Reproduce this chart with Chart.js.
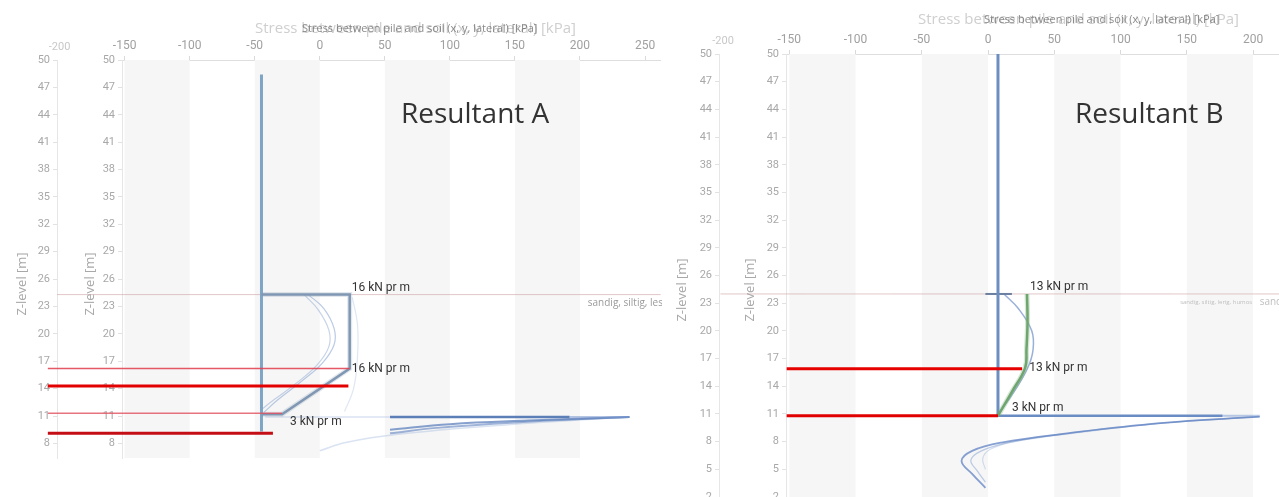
<!DOCTYPE html>
<html>
<head>
<meta charset="utf-8">
<title>Stress between pile and soil</title>
<script src="https://cdn.jsdelivr.net/npm/chart.js@4.4.1/dist/chart.umd.min.js"></script>
<style>
  html, body { margin: 0; padding: 0; background: #fff; }
  body { width: 1279px; height: 497px; position: relative; overflow: hidden; }
  .panel { position: absolute; top: 0; }
  #panelA { left: 0; width: 662px; height: 462px; }
  #panelB { left: 662px; width: 617px; height: 497px; }
</style>
</head>
<body>
<div class="panel" id="panelA"><canvas id="chartA" width="662" height="462"></canvas></div>
<div class="panel" id="panelB"><canvas id="chartB" width="617" height="497"></canvas></div>
<script>
// --- data: x = stress [kPa], y = Z-level [m] ---
const xTicks = [-150, -100, -50, 0, 50, 100, 150, 200, 250];
const zTicksA = [50, 47, 44, 41, 38, 35, 32, 29, 26, 23, 20, 17, 14, 11, 8];
const zTicksB = [50, 47, 44, 41, 38, 35, 32, 29, 26, 23, 20, 17, 14, 11, 8, 5, 2];

// Resultant A
const soilLayerA = [[-202, 24.3], [262, 24.3]];
const pileA = [[-44.8, 48.4], [-44.8, 9.3]];
const resultantA = [[-44.8, 24.3], [23, 24.3], [23, 16.2], [-29, 11.2], [-44.8, 11.2]];
const stressA1 = [[-9, 24.3], [3, 22.8], [11, 20.6], [11, 18.8], [2, 16.8], [-14, 14.8], [-32, 12.8], [-43, 11.4]];
const stressA2 = [[-12, 24.3], [-1, 22.6], [7, 20.4], [7, 18.6], [-2, 16.6], [-18, 14.6], [-35, 12.8], [-44, 11.8]];
const stressA3 = [[25, 24], [29, 21], [29, 17.5], [26, 14], [19, 11.5]];
const spikeA = [[54, 10.9], [192, 10.9]];
const spikeBaseA = [[-42, 10.9], [54, 10.9]];
const spikeTipA = [[192, 10.9], [238, 10.9]];
const returnA1 = [[238, 10.9], [160, 10.5], [100, 10.1], [54, 9.5]];
const returnA2 = [[238, 10.9], [150, 10.3], [90, 9.7], [54, 9.1]];
const returnA3 = [[238, 10.9], [140, 10.0], [60, 9.0], [20, 8.1], [0, 7.2]];
const redA1 = [[-209, 16.2], [23, 16.2]];
const redA2 = [[-209, 14.3], [22, 14.3]];
const redA3 = [[-209, 11.3], [-29, 11.3]];
const redA4 = [[-209, 9.1], [-36, 9.1]];
const kNLabelsA = ['16 kN pr m', '16 kN pr m', '3 kN pr m'];

// Resultant B
const soilLayerB = [[-202, 24.0], [222, 24.0]];
const pileB = [[7.5, 50], [7.5, 10.8]];
const pileTopB = [[-2, 24.0], [18, 24.0]];
const resultantB = [[29.4, 24.0], [29.8, 21], [29, 18], [28, 16], [18, 13.4], [7.5, 10.8]];
const stressB = [[12, 24.0], [23, 22.4], [33, 20], [34, 18], [30, 16], [20, 13.5], [7.5, 10.9]];
const spikeB = [[7.5, 10.8], [177, 10.8]];
const spikeTipB = [[177, 10.8], [205, 10.8]];
const returnB1 = [[205, 10.7], [130, 10.0], [60, 8.9], [10, 7.9], [-12, 7.0], [-20, 5.9], [-12, 4.5], [-2, 3.0]];
const returnB2 = [[205, 10.7], [130, 10.0], [60, 8.9], [15, 7.9], [-5, 7.0], [-13, 6.0], [-8, 4.8], [-2, 3.6]];
const returnB3 = [[205, 10.7], [140, 10.1], [70, 9.0], [20, 8.0], [2, 7.2], [-4, 6.2], [-2, 5.0]];
const redB1 = [[-152, 15.9], [25.7, 15.9]];
const redB2 = [[-152, 10.8], [7.5, 10.8]];
const kNLabelsB = ['13 kN pr m', '13 kN pr m', '3 kN pr m'];

const TITLE = 'Stress between pile and soil (x, y, lateral) [kPa]';
const SANS = "'Open Sans', sans-serif";
Chart.defaults.font.family = "Roboto, sans-serif";
Chart.defaults.color = '#a8a8a8';

const pts = arr => arr.map(([x, y]) => ({ x, y }));

function line(data, color, width, extra) {
    return Object.assign({
        data: pts(data), showLine: true, borderColor: color, borderWidth: width,
        pointRadius: 0, fill: false, clip: false, tension: 0
    }, extra || {});
}
const curve = (data, color, width) => line(data, color, width, { tension: 0.4 });

// backgrounds, texts and ghost titles
const overlay = {
    id: 'overlay',
    beforeDatasetsDraw(chart) {
        const { ctx, chartArea: a, scales: { x } } = chart;
        ctx.save();
        ctx.fillStyle = '#f6f6f6';
        [-150, -50, 50, 150].forEach(s => {
            const l = Math.max(x.getPixelForValue(s), a.left);
            const r = Math.min(x.getPixelForValue(s + 50), a.right);
            if (r > l) ctx.fillRect(l, a.top, r - l, a.bottom - a.top);
        });
        ctx.restore();
    },
    afterDraw(chart, args, o) {
        const { ctx, scales: { x, y, yOuter } } = chart;
        ctx.save();
        ctx.textBaseline = 'middle';

        // kN labels next to the resultant corners
        ctx.font = "12px Roboto, sans-serif";
        ctx.fillStyle = '#333';
        o.labels.forEach((t, i) => {
            const [vx, vz] = o.anchors[i];
            const [dx, dy] = o.offsets[i];
            ctx.fillText(t, x.getPixelForValue(vx) + dx, y.getPixelForValue(vz) + dy);
        });

        // soil notes
        o.notes.forEach(n => {
            ctx.font = `${n.size}px ${SANS}`;
            ctx.fillStyle = n.color;
            ctx.fillText(n.text, x.getPixelForValue(n.x), y.getPixelForValue(n.z));
        });

        ctx.font = `28px ${SANS}`;
        ctx.fillStyle = '#333';
        ctx.fillText(o.name, o.nameAt[0], o.nameAt[1]);

        // overlapping titles (two stacked screenshots)
        ctx.font = `15px ${SANS}`;
        ctx.fillStyle = '#cfcfcf';
        ctx.fillText(TITLE, o.titleAt[0], o.titleAt[1]);
        ctx.font = `11px ${SANS}`;
        ctx.fillStyle = 'rgba(100,100,100,0.75)';
        ctx.fillText(TITLE, o.titleAt[0] + o.ghostShift, o.titleAt[1]);

        // Z-level titles, one per stacked axis
        ctx.font = `13px ${SANS}`;
        ctx.fillStyle = '#a8a8a8';
        ctx.textAlign = 'center';
        [[yOuter, o.zTitleX[0]], [y, o.zTitleX[1]]].forEach(([ax, dx]) => {
            ctx.save();
            ctx.translate(ax.left + dx, o.zTitleY);
            ctx.rotate(-Math.PI / 2);
            ctx.fillText('Z-level [m]', 0, 0);
            ctx.restore();
        });

        // -200 from the wider screenshot behind
        ctx.font = "11px Roboto, sans-serif";
        ctx.fillStyle = '#c8c8c8';
        ctx.textBaseline = 'bottom';
        ctx.fillText('-200', x.getPixelForValue(-200), x.bottom - 7);
        ctx.restore();
    }
};

function yAxis(min, ticks, width, weight) {
    return {
        type: 'linear', position: 'left', weight, min, max: 50,
        afterBuildTicks: s => { s.ticks = ticks.map(v => ({ value: v })); },
        afterFit: s => { s.width = width; s.paddingTop = 0; s.paddingBottom = 0; },
        ticks: { color: '#a8a8a8', font: { size: 11 }, padding: 3 },
        grid: { drawOnChartArea: false, tickLength: 4, color: '#e2e2e2' },
        border: { color: '#e6e6e6' },
        title: { display: false }
    };
}

function makePanel(id, p) {
    new Chart(document.getElementById(id), {
        type: 'scatter',
        data: { datasets: p.datasets },
        options: {
            responsive: false,
            animation: false,
            layout: { padding: p.padding },
            plugins: { legend: { display: false }, tooltip: { enabled: false }, overlay: p.overlay },
            scales: {
                x: {
                    type: 'linear', position: 'top', min: p.xMin, max: p.xMax,
                    afterBuildTicks: s => { s.ticks = xTicks.map(v => ({ value: v })); },
                    afterFit: s => { s.height = p.topHeight; s.paddingLeft = 0; s.paddingRight = 0; },
                    ticks: { color: '#a0a0a0', font: { size: 12 }, padding: 3, maxRotation: 0 },
                    grid: { drawOnChartArea: false, tickLength: 4, color: '#dadada' },
                    border: { color: '#dedede' }
                },
                y: yAxis(p.zMin, p.zTicks, p.innerWidth, 0),
                yOuter: yAxis(p.zMin, p.zTicks, 57, 1)
            }
        },
        plugins: [overlay]
    });
}

// first dataset is drawn on top
makePanel('chartA', {
    xMin: -152, xMax: 261.5, zMin: 6.4, zTicks: zTicksA,
    topHeight: 60, innerWidth: 65,
    padding: { top: 0, left: 0, right: 2, bottom: 4 },
    datasets: [
        line(redA2, '#e30000', 3),
        line(redA4, '#c40d14', 3),
        line(redA1, 'rgba(225,60,75,0.85)', 1.5),
        line(redA3, 'rgba(225,80,95,0.8)', 1.5),
        line(resultantA, '#7f97b2', 2.5),
        line(resultantA, 'rgba(140,160,185,0.25)', 5),
        line(pileA, '#7ea6c4', 3),
        line(spikeA, '#5b7fb6', 2.5),
        line(spikeTipA, 'rgba(120,150,205,0.55)', 2),
        line(spikeBaseA, 'rgba(150,175,215,0.35)', 1.5),
        curve(returnA1, 'rgba(95,130,190,0.75)', 2),
        curve(returnA2, 'rgba(95,130,190,0.6)', 2),
        curve(returnA3, 'rgba(150,175,215,0.35)', 1.5),
        curve(stressA1, 'rgba(130,160,205,0.55)', 1.2),
        curve(stressA2, 'rgba(130,160,205,0.45)', 1.2),
        curve(stressA3, 'rgba(150,175,215,0.3)', 1.2),
        line(soilLayerA, 'rgba(205,160,165,0.6)', 1)
    ],
    overlay: {
        name: 'Resultant A', nameAt: [401, 115],
        titleAt: [255, 29], ghostShift: 47,
        zTitleX: [22, 33], zTitleY: 284,
        labels: kNLabelsA,
        anchors: [resultantA[1], resultantA[2], resultantA[3]],
        offsets: [[2, -7], [2, 0], [8, 8]],
        notes: [{ text: 'sandig, siltig, lesa', x: 206, z: 23.4, size: 10, color: '#9a9a9a' }]
    }
});

makePanel('chartB', {
    xMin: -152.5, xMax: 219.6, zMin: 2, zTicks: zTicksB,
    topHeight: 54, innerWidth: 67,
    padding: { top: 0, left: 0, right: 0, bottom: 0 },
    datasets: [
        line(redB1, '#e60000', 3),
        line(redB2, '#e00000', 3),
        curve(resultantB, '#6fa56f', 2.5),
        curve(resultantB, 'rgba(120,175,120,0.3)', 5),
        line(pileB, '#6d8fbf', 3),
        line(pileTopB, '#6b7f9e', 2),
        line(spikeB, '#6a8cc4', 2.5),
        line(spikeTipB, 'rgba(120,150,205,0.5)', 2),
        curve(stressB, 'rgba(120,150,205,0.75)', 1.5),
        curve(returnB1, 'rgba(95,130,195,0.75)', 1.8),
        curve(returnB2, 'rgba(130,160,210,0.5)', 1.3),
        curve(returnB3, 'rgba(150,175,215,0.4)', 1.2),
        line(soilLayerB, 'rgba(205,160,165,0.6)', 1)
    ],
    overlay: {
        name: 'Resultant B', nameAt: [413, 115],
        titleAt: [256, 20], ghostShift: 66,
        zTitleX: [20, 31], zTitleY: 290,
        labels: kNLabelsB,
        anchors: [resultantB[0], resultantB[3], resultantB[5]],
        offsets: [[3, -7], [4, 0], [14, -8]],
        notes: [
            { text: 'sandig, siltig, lerig, humos', x: 145, z: 23.1, size: 6, color: '#c0c0c0' },
            { text: 'sand', x: 205, z: 23.1, size: 10, color: '#c0c0c0' }
        ]
    }
});
</script>
</body>
</html>
